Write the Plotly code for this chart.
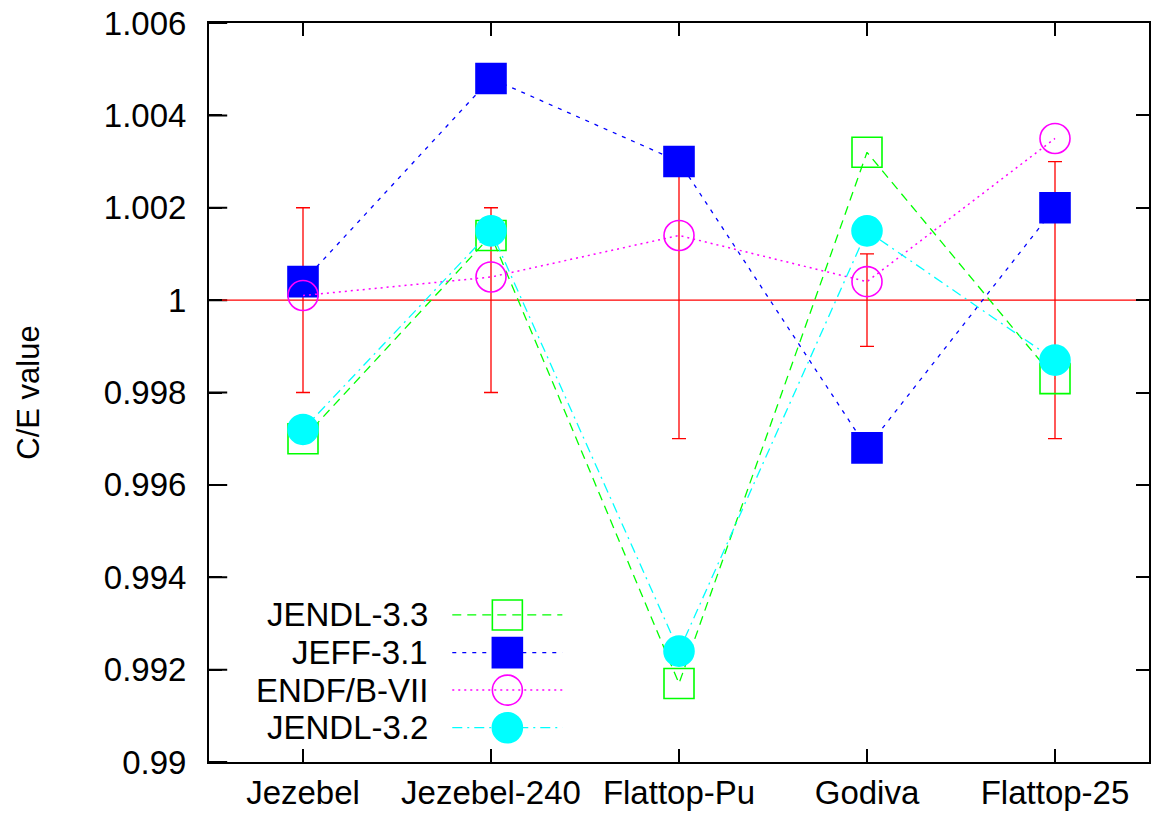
import plotly.graph_objects as go

categories = ["Jezebel", "Jezebel-240", "Flattop-Pu", "Godiva", "Flattop-25"]
x_pos = [0, 1, 2, 3, 4]

exp_value = [1.0, 1.0, 1.0, 1.0, 1.0]
exp_error = [0.002, 0.002, 0.003, 0.001, 0.003]

jendl33 = [0.9970, 1.0014, 0.9917, 1.0032, 0.9983]
jeff31 = [1.0004, 1.0048, 1.0030, 0.9968, 1.0020]
endfb7 = [1.0001, 1.0005, 1.0014, 1.0004, 1.0035]
jendl32 = [0.9972, 1.0015, 0.9924, 1.0015, 0.9987]

y_ticks = [0.99, 0.992, 0.994, 0.996, 0.998, 1.0, 1.002, 1.004, 1.006]
y_tick_text = ["0.99", "0.992", "0.994", "0.996", "0.998", "1", "1.002", "1.004", "1.006"]
x_range = [-0.5, 4.5]
y_range = [0.99, 1.006]

series = [
    dict(name="JENDL-3.3", y=jendl33, color="#00ff00", dash="9px,6px",
         symbol="square-open", lw=1.3),
    dict(name="JEFF-3.1", y=jeff31, color="#0000ff", dash="4px,6px",
         symbol="square", lw=1.3),
    dict(name="ENDF/B-VII", y=endfb7, color="#ff00ff", dash="2px,4px",
         symbol="circle-open", lw=1.5),
    dict(name="JENDL-3.2", y=jendl32, color="#00ffff", dash="10px,5px,2px,5px",
         symbol="circle", lw=1.3),
]

FONT = "Liberation Sans, Arial, Helvetica, sans-serif"
FS = 33

fig = go.Figure()

# inner tick marks along the left frame edge (outer half is clipped away)
fig.add_trace(go.Scatter(
    x=[x_range[0]] * len(y_ticks), y=y_ticks, mode="markers",
    marker=dict(symbol="line-ew", size=26,
                line=dict(color="black", width=2)),
    cliponaxis=True, showlegend=False, hoverinfo="skip"))

# reference line at C/E = 1
fig.add_trace(go.Scatter(
    x=x_range, y=[1.0, 1.0], mode="lines",
    line=dict(color="#ff0000", width=1.3), showlegend=False, hoverinfo="skip"))

# experimental uncertainties
fig.add_trace(go.Scatter(
    x=x_pos, y=exp_value, mode="markers",
    marker=dict(size=1, color="rgba(0,0,0,0)"),
    error_y=dict(type="data", array=exp_error, visible=True,
                 color="#ff0000", thickness=1.3, width=7),
    showlegend=False, hoverinfo="skip"))

for s in series:
    fig.add_trace(go.Scatter(
        x=x_pos, y=s["y"], mode="lines+markers", name=s["name"],
        line=dict(color=s["color"], width=s["lw"], dash=s["dash"]),
        marker=dict(symbol=s["symbol"], size=30, color=s["color"],
                    line=dict(color=s["color"], width=1.6)),
        showlegend=False))

# gnuplot-style key (text on the left, sample on the right)
row_y = [0.199, 0.148, 0.0973, 0.0464]
text_x = 0.2354
line_x0, line_x1 = 0.2588, 0.3759
mark_x = 0.3174
for s, yy in zip(series, row_y):
    fig.add_annotation(
        x=text_x, y=yy, xref="paper", yref="paper", text=s["name"],
        showarrow=False, xanchor="right", yanchor="middle",
        font=dict(family=FONT, size=FS, color="black"))
    fig.add_shape(type="line", xref="paper", yref="paper",
                  x0=line_x0, x1=line_x1, y0=yy, y1=yy,
                  line=dict(color=s["color"], width=s["lw"], dash=s["dash"]))
    filled = not s["symbol"].endswith("open")
    shape_type = "rect" if s["symbol"].startswith("square") else "circle"
    fig.add_shape(type=shape_type, xref="paper", yref="paper",
                  xsizemode="pixel", ysizemode="pixel",
                  xanchor=mark_x, yanchor=yy,
                  x0=-15, x1=15, y0=-15, y1=15,
                  fillcolor=s["color"] if filled else "rgba(0,0,0,0)",
                  line=dict(color=s["color"], width=1.6))

axis_common = dict(
    showline=True, linecolor="black", linewidth=2, mirror="allticks",
    ticks="inside", ticklen=13, tickwidth=2, tickcolor="black",
    showgrid=False, zeroline=False,
    tickfont=dict(family=FONT, size=FS, color="black"),
)

fig.update_xaxes(range=x_range, tickmode="array", tickvals=x_pos,
                 ticktext=categories, **axis_common)
fig.update_yaxes(range=y_range, tickmode="array", tickvals=y_ticks,
                 ticktext=y_tick_text, ticklabelstandoff=14,
                 title=dict(text="C/E value", standoff=55,
                            font=dict(family=FONT, size=31, color="black")),
                 **axis_common)

fig.update_layout(
    width=1155, height=817,
    margin=dict(l=209, r=6, t=23, b=55, autoexpand=False),
    paper_bgcolor="white", plot_bgcolor="white",
    font=dict(family=FONT, size=FS, color="black"),
    showlegend=False,
)

fig.write_html("out.html", config={"displayModeBar": False},
               post_script="document.body.style.margin='0px';"
                           "document.body.style.overflow='hidden';")
